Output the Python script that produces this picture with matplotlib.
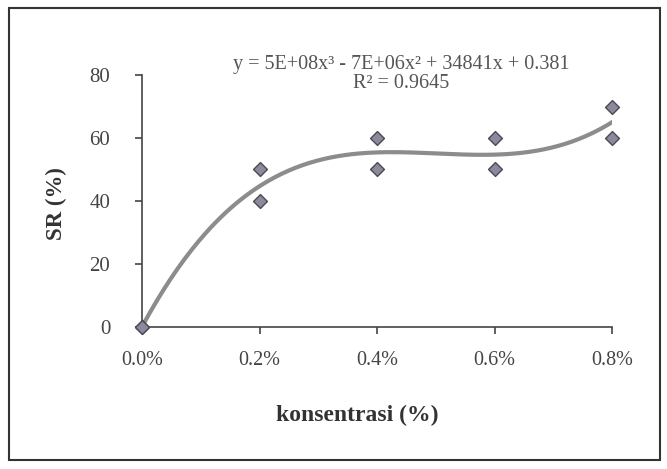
import matplotlib.pyplot as plt
import matplotlib.patches as patches
import matplotlib.ticker as mticker
import numpy as np

# konsentrasi (fraction) vs SR (%)
konsentrasi = [0.0, 0.0, 0.002, 0.002, 0.004, 0.004, 0.006, 0.006, 0.008, 0.008]
sr = [0, 0, 50, 40, 60, 50, 60, 50, 70, 60]
x_ticks = [0.0, 0.002, 0.004, 0.006, 0.008]
y_ticks = [0, 20, 40, 60, 80]

plt.rcParams['font.family'] = ['Liberation Serif', 'DejaVu Serif']

fig = plt.figure(figsize=(6.67, 4.69), dpi=100)
ax = fig.add_axes([0.213, 0.303, 0.705, 0.537])

# poly trendline, order 3
coef = np.polyfit(konsentrasi, sr, 3)
xs = np.linspace(0, 0.008, 200)
ax.plot(xs, np.polyval(coef, xs), color='#8c8c8c', lw=3, zorder=2)

ax.scatter(konsentrasi, sr, marker='D', s=50, color='#8a8a9c',
           edgecolors='#4a4a55', linewidths=1, zorder=3, clip_on=False)

ax.set_xlim(0, 0.008)
ax.set_ylim(0, 80)
ax.set_xticks(x_ticks)
ax.set_yticks(y_ticks)
ax.xaxis.set_major_formatter(mticker.PercentFormatter(xmax=1, decimals=1))
for s in ['top', 'right']:
    ax.spines[s].set_visible(False)
for s in ['left', 'bottom']:
    ax.spines[s].set_color('#444444')
    ax.spines[s].set_linewidth(1.2)
ax.tick_params(axis='both', colors='#444444', length=5, width=1.2)
ax.tick_params(axis='x', labelsize=14.5, pad=12)
ax.tick_params(axis='y', labelsize=15, pad=18)

ax.set_xlabel('konsentrasi (%)', fontsize=17, fontweight='bold', color='#333333')
ax.xaxis.set_label_coords(0.457, -0.31)
ax.set_ylabel('SR (%)', fontsize=16.5, fontweight='bold', color='#333333')
ax.yaxis.set_label_coords(-0.16, 0.49)

ax.text(0.00441, 80.3, 'y = 5E+08x\u00b3 - 7E+06x\u00b2 + 34841x + 0.381\nR\u00b2 = 0.9645',
        ha='center', va='center', fontsize=14.5, color='#555555', linespacing=0.98)

fig.patches.append(patches.Rectangle((0.013, 0.02), 0.976, 0.963, transform=fig.transFigure,
                                     fill=False, edgecolor='#333333', lw=1.5))

fig.savefig('out.png', dpi=100)
